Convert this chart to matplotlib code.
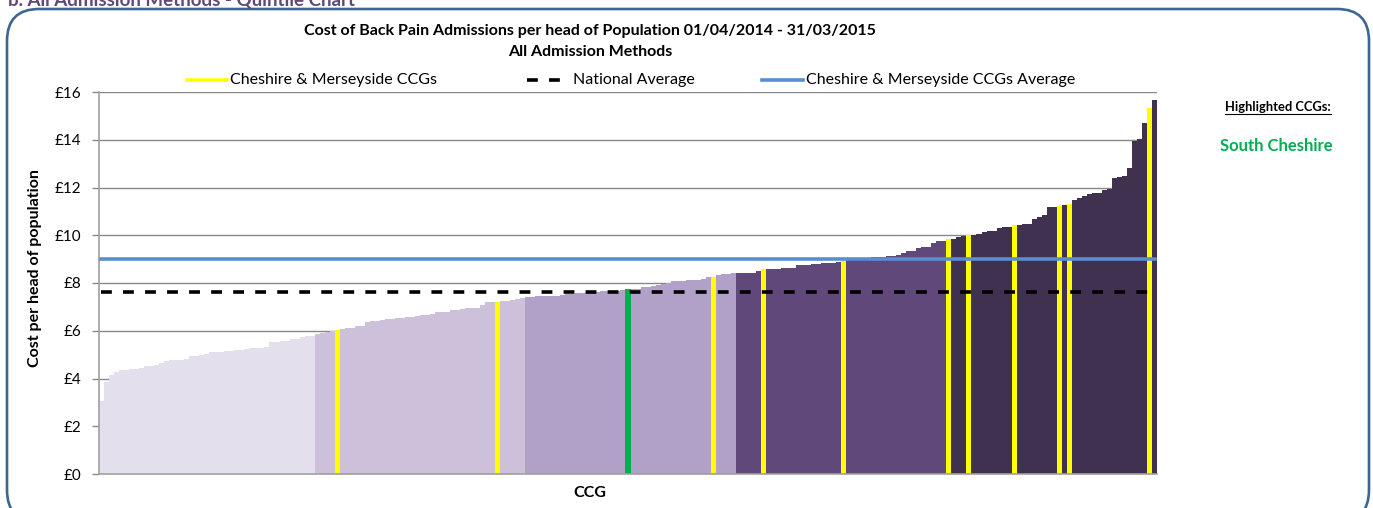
import matplotlib
matplotlib.use("Agg")
import matplotlib.pyplot as plt
from matplotlib.lines import Line2D
from matplotlib.patches import FancyBboxPatch
from matplotlib.transforms import IdentityTransform

# Cost per head of population for each CCG, sorted ascending (GBP)
cost_per_head = [
    # quintile 1
    3.07, 3.87, 4.15, 4.28, 4.34, 4.37, 4.40, 4.40, 4.45, 4.51,
    4.54, 4.58, 4.66, 4.73, 4.77, 4.77, 4.79, 4.82, 4.93, 4.93,
    4.97, 5.04, 5.09, 5.11, 5.12, 5.15, 5.15, 5.18, 5.18, 5.22,
    5.26, 5.26, 5.29, 5.33, 5.51, 5.51, 5.55, 5.55, 5.64, 5.64,
    5.72, 5.76, 5.79,
    # quintile 2
    5.85, 5.92, 5.96, 6.00, 6.03, 6.07, 6.13, 6.13, 6.20, 6.20,
    6.38, 6.39, 6.42, 6.45, 6.48, 6.49, 6.52, 6.53, 6.56, 6.59,
    6.62, 6.64, 6.67, 6.71, 6.77, 6.78, 6.80, 6.85, 6.87, 6.91,
    6.94, 6.95, 6.95, 7.08, 7.20, 7.20, 7.20, 7.24, 7.26, 7.29,
    7.33, 7.36,
    # quintile 3
    7.40, 7.41, 7.45, 7.45, 7.45, 7.46, 7.46, 7.51, 7.54, 7.54,
    7.57, 7.59, 7.62, 7.62, 7.63, 7.65, 7.66, 7.66, 7.68, 7.70,
    7.75, 7.75, 7.76, 7.82, 7.85, 7.89, 7.93, 7.94, 7.99, 8.07,
    8.07, 8.07, 8.12, 8.12, 8.12, 8.16, 8.24, 8.24, 8.33, 8.36,
    8.36, 8.40,
    # quintile 4
    8.40, 8.40, 8.40, 8.43, 8.50, 8.58, 8.58, 8.60, 8.60, 8.63,
    8.63, 8.63, 8.74, 8.74, 8.75, 8.79, 8.79, 8.84, 8.84, 8.84,
    8.88, 8.93, 8.96, 8.97, 8.98, 8.99, 9.00, 9.07, 9.07, 9.07,
    9.13, 9.13, 9.17, 9.25, 9.34, 9.34, 9.46, 9.51, 9.51, 9.66,
    9.76, 9.76, 9.84,
    # quintile 5
    9.86, 9.91, 9.98, 10.01, 10.01, 10.04, 10.12, 10.16, 10.18, 10.29,
    10.34, 10.36, 10.43, 10.44, 10.46, 10.47, 10.66, 10.76, 10.83, 11.17,
    11.17, 11.24, 11.25, 11.31, 11.46, 11.57, 11.63, 11.71, 11.75, 11.76,
    11.89, 11.92, 12.38, 12.44, 12.48, 12.80, 13.96, 14.03, 14.70, 15.34,
    15.65,
]
quintile_sizes = [43, 42, 42, 43, 41]
quintile_colors = ["#E4DFEC", "#CCC0DA", "#B1A0C7", "#60497A", "#403151"]

# Positions (in sorted order) of Cheshire & Merseyside CCGs and the highlighted CCG
cheshire_merseyside_idx = [47, 79, 122, 132, 148, 169, 173, 182, 191, 193, 209]
highlighted_idx = [105]
highlighted_names = ["South Cheshire"]

national_average = 7.63
cm_average = 9.0

y_ticks = [0, 2, 4, 6, 8, 10, 12, 14, 16]
y_tick_labels = ["£0", "£2", "£4", "£6", "£8", "£10", "£12", "£14", "£16"]

title = ("Cost of Back Pain Admissions per head of Population 01/04/2014 - 31/03/2015\n"
         "All Admission Methods")

YELLOW = "#FFFF00"
GREEN = "#00B050"
BLUE = "#558ED5"
GRID = "#888888"
DASHES = (3.0, 3.1)

plt.rcParams["font.family"] = ["Lato", "DejaVu Sans"]

W, H = 1373, 508
fig = plt.figure(figsize=(W / 100, H / 100), dpi=100)
ax = fig.add_axes([99 / W, 1 - 474 / H, (1157 - 99) / W, (474 - 92) / H])

# bar colours by quintile, overridden for the Cheshire & Merseyside and highlighted CCGs
colors = []
for q, n in enumerate(quintile_sizes):
    colors += [quintile_colors[q]] * n
for i in cheshire_merseyside_idx:
    colors[i] = YELLOW
for i in highlighted_idx:
    colors[i] = GREEN

x = list(range(len(cost_per_head)))
ax.bar(x, cost_per_head, width=1.0, color=colors, linewidth=0,
       antialiased=False, zorder=2)

ax.axhline(national_average, xmin=0.002, xmax=0.995, color="black", lw=2.6,
           dashes=DASHES, zorder=4)
ax.axhline(cm_average, xmin=0.002, xmax=0.998, color=BLUE, lw=2.6, zorder=4)

ax.set_xlim(-0.5, len(cost_per_head) - 0.5)
ax.set_ylim(0, 16)
ax.set_yticks(y_ticks)
ax.set_yticklabels(y_tick_labels, fontsize=11)
ax.set_xticks([])
ax.yaxis.grid(True, color=GRID, lw=1.0, zorder=0)
ax.set_axisbelow(True)
ax.tick_params(axis="y", length=5, width=1, color=GRID, pad=8)
for s in ("top", "right"):
    ax.spines[s].set_visible(False)
for s in ("left", "bottom"):
    ax.spines[s].set_color("#A0A0A0")
    ax.spines[s].set_linewidth(1.2)

# titles and axis labels
fig.text(590 / W, 1 - 41.5 / H, title, ha="center", va="center",
         fontsize=11.5, fontweight="bold", linespacing=1.62)
fig.text(35 / W, 1 - 268 / H, "Cost per head of population", rotation=90,
         ha="center", va="center", fontsize=11.5, fontweight="bold")
fig.text(590 / W, 1 - 493 / H, "CCG", ha="center", va="center",
         fontsize=11.5, fontweight="bold")

# legend entries
legend_y = 1 - 80 / H
entries = [
    (187, 227, dict(color=YELLOW, lw=2.6), "Cheshire & Merseyside CCGs"),
    (527, 570, dict(color="black", lw=2.6, dashes=DASHES), "National Average"),
    (762, 803, dict(color=BLUE, lw=2.6), "Cheshire & Merseyside CCGs Average"),
]
for x0, x1, style, label in entries:
    fig.add_artist(Line2D([x0 / W, x1 / W], [legend_y, legend_y],
                          transform=fig.transFigure, **style))
    fig.text((x1 + 3) / W, legend_y, label, ha="left", va="center", fontsize=11.5)

# highlighted CCG panel
hdr = fig.text(1278 / W, 1 - 107 / H, "Highlighted CCGs:", ha="center", va="center",
               fontsize=9.3, fontweight="bold")
for k, name in enumerate(highlighted_names):
    fig.text(1276 / W, 1 - (146 + 20 * k) / H, name, ha="center", va="center",
             fontsize=12, fontweight="bold", color=GREEN)

# section heading, partly above the top edge
fig.text(8 / W, 1 - 5 / H, "b. All Admission Methods - Quintile Chart",
         ha="left", va="baseline", fontsize=13.5, fontweight="bold", color="#60497A")

# rounded frame around the chart
frame = FancyBboxPatch((7, -14), 1362, 513,
                       boxstyle="round,pad=0,rounding_size=32",
                       transform=IdentityTransform(), fill=False,
                       edgecolor="#3E6592", linewidth=1.9)
fig.add_artist(frame)

# underline for the panel heading
fig.canvas.draw()
bb = hdr.get_window_extent(renderer=fig.canvas.get_renderer())
fig.add_artist(Line2D([bb.x0, bb.x1], [bb.y0 - 1, bb.y0 - 1],
                      transform=IdentityTransform(), color="black", lw=0.8))

fig.savefig("out.png", dpi=100)
